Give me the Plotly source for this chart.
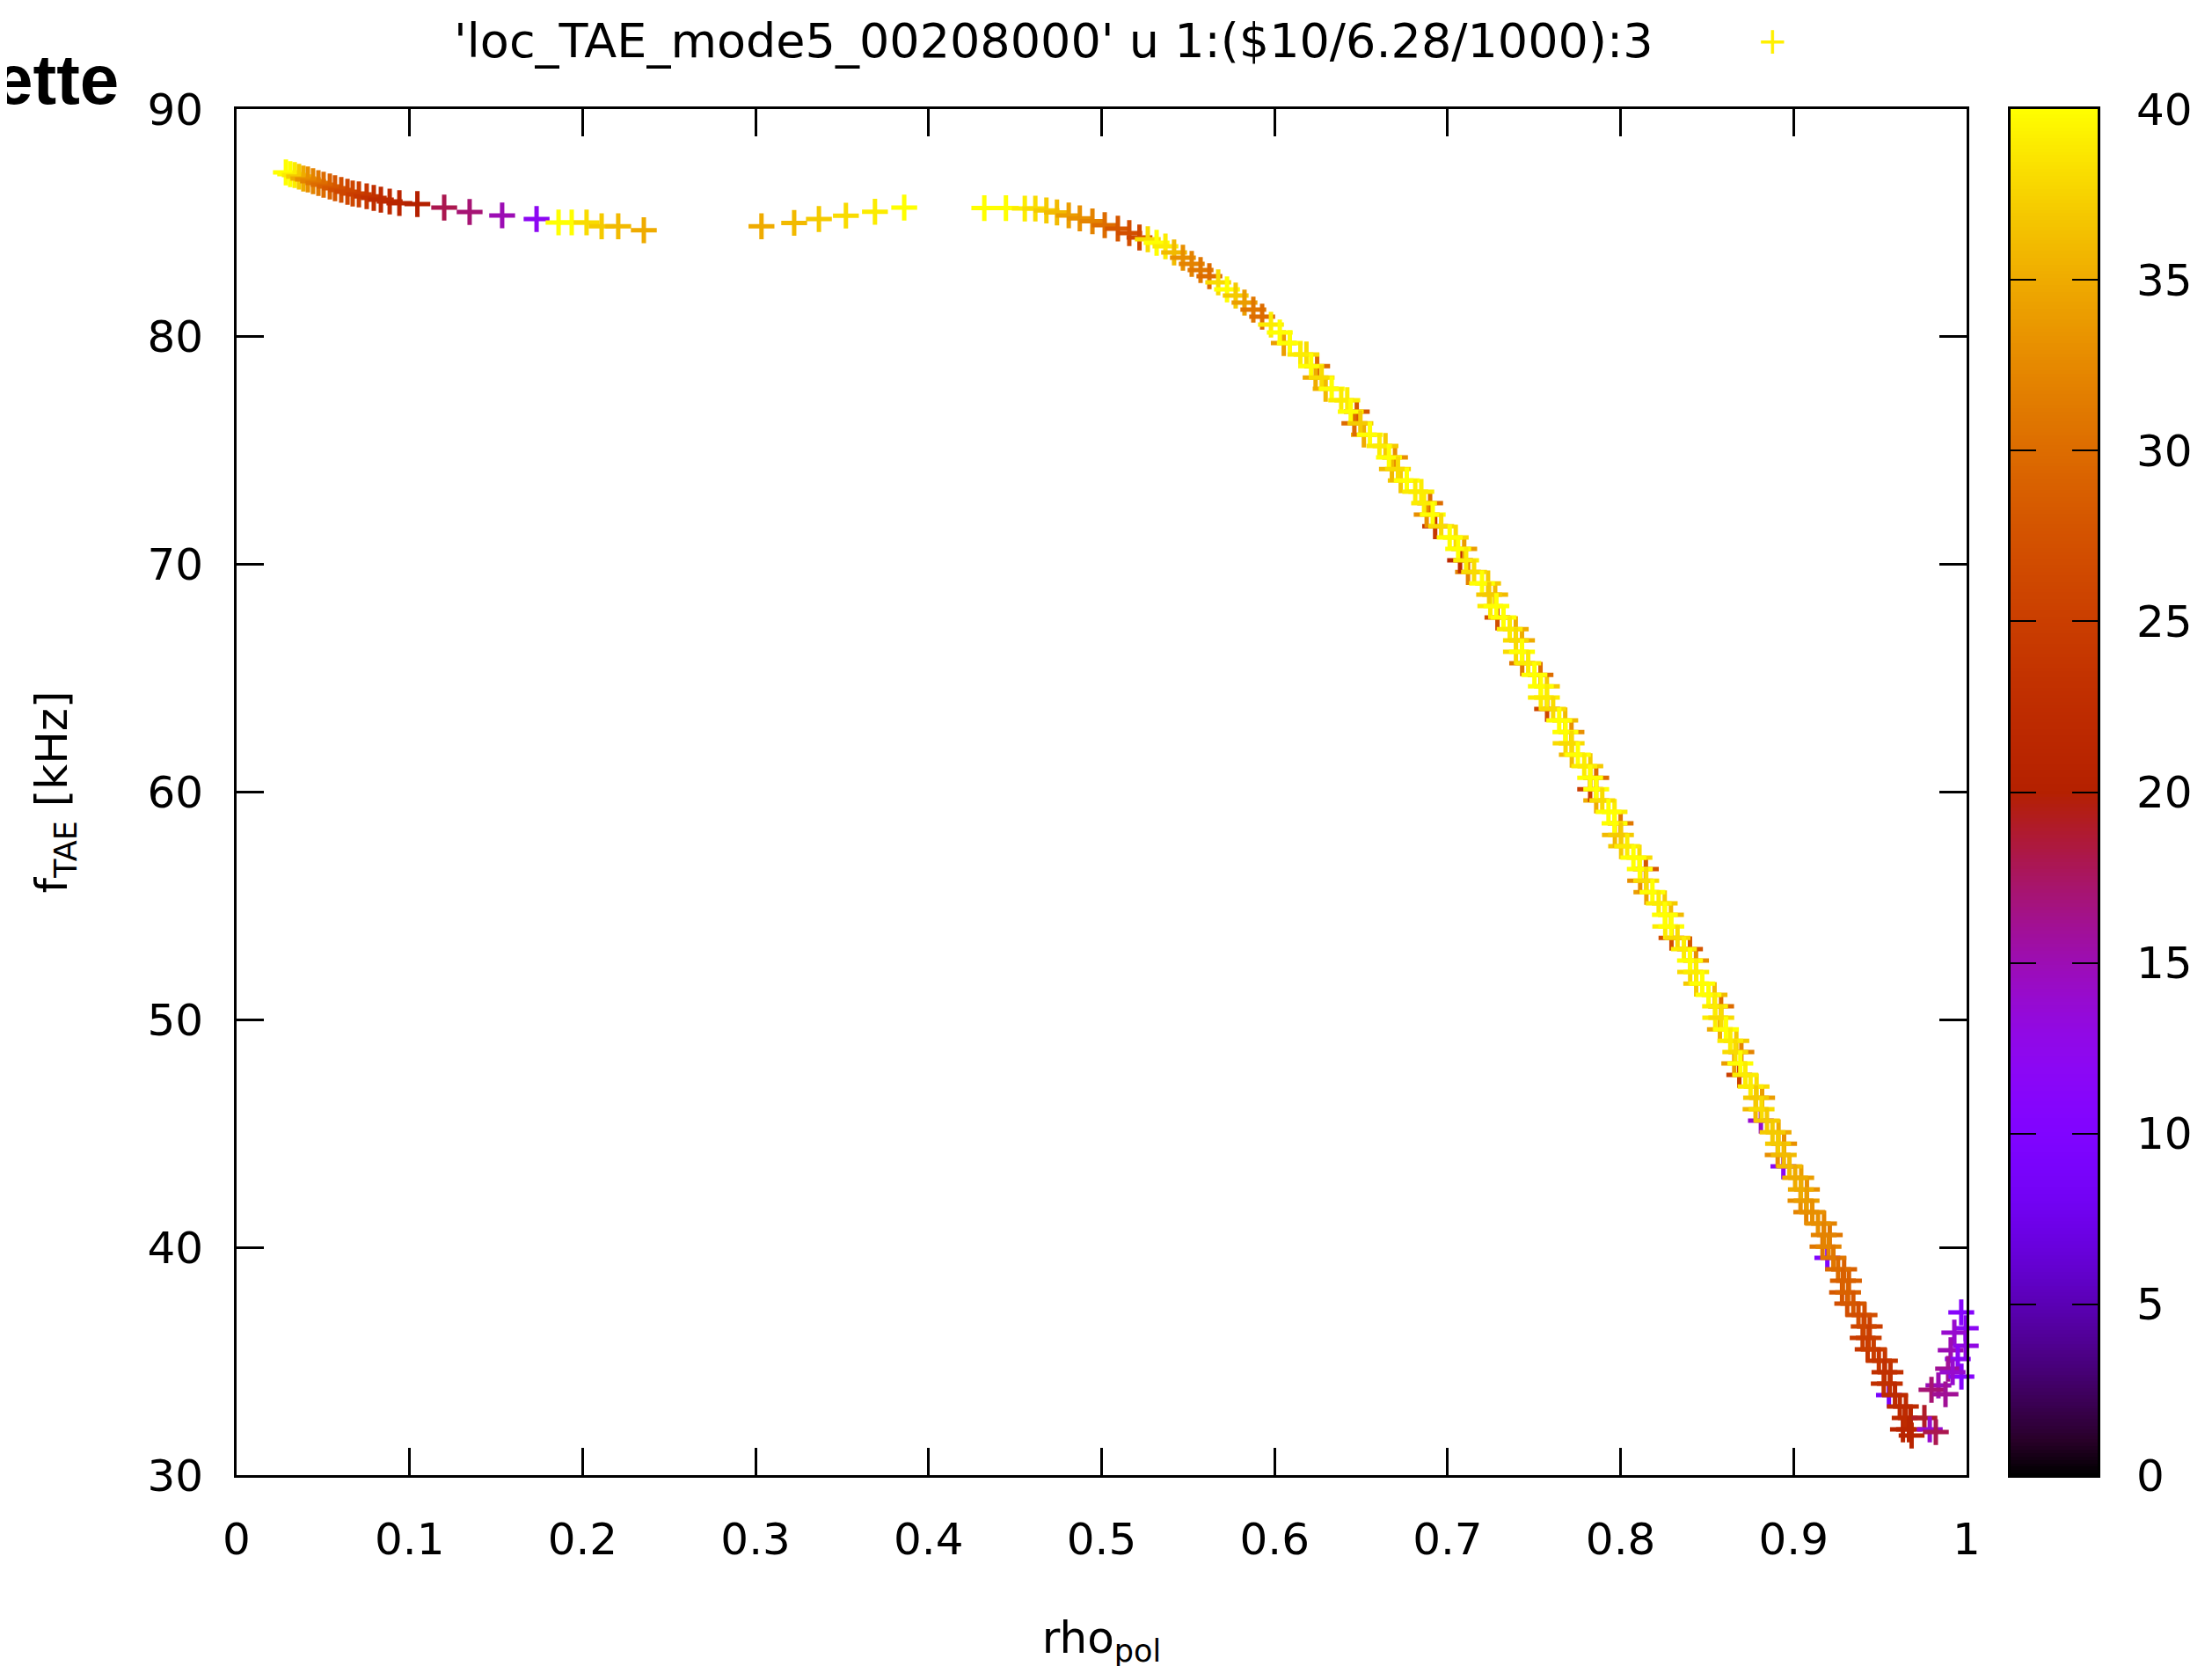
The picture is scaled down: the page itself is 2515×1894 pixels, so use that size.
import numpy as np
import plotly.graph_objects as go

# ---------------- data ----------------
# rho_pol, f_TAE [kHz], colour value (column 3)
head_x = [0.0285, 0.0310, 0.0336, 0.0361, 0.0386, 0.0412, 0.0442, 0.0473, 0.0503, 0.0539,
          0.0569, 0.0605, 0.0641, 0.0671, 0.0707, 0.0752, 0.0793, 0.0834, 0.0885, 0.0941,
          0.1045, 0.1200, 0.1347, 0.1535, 0.1734,
          0.1861, 0.1937, 0.2023, 0.2110, 0.2206, 0.2354,
          0.3034, 0.3223, 0.3366, 0.3522, 0.3690, 0.3859,
          0.4322, 0.4447, 0.4556, 0.4617, 0.4681, 0.4742, 0.4810, 0.4874, 0.4947, 0.5018,
          0.5094, 0.5160, 0.5219]
head_y = [87.22, 87.14, 87.10, 87.03, 86.95, 86.91, 86.83, 86.75, 86.68, 86.60,
          86.52, 86.45, 86.37, 86.29, 86.25, 86.17, 86.10, 86.02, 85.94, 85.87,
          85.83, 85.67, 85.48, 85.33, 85.17,
          85.02, 85.02, 85.02, 84.85, 84.85, 84.68,
          84.85, 85.00, 85.17, 85.32, 85.49, 85.67,
          85.65, 85.65, 85.63, 85.63, 85.55, 85.46, 85.33, 85.20, 85.07, 84.90,
          84.75, 84.55, 84.36]
head_c = [40, 40, 39, 37, 35, 33, 32, 31, 30, 29,
          28, 27, 26, 26, 25, 24, 23, 22, 22, 21,
          20, 18, 17, 15, 12,
          40, 40, 38, 37, 36, 35,
          35, 36, 37, 38, 39, 40,
          40, 40, 39, 38, 37, 36, 34, 33, 32, 30,
          28, 27, 26]

band_x = [0.5267, 0.5318, 0.5369, 0.5419, 0.5470, 0.5521, 0.5572, 0.5623, 0.5674, 0.5725,
          0.5775, 0.5826, 0.5877, 0.5928, 0.5979, 0.6030,
          0.6088, 0.6149, 0.6211, 0.6272, 0.6330, 0.6385, 0.6440, 0.6496, 0.6551, 0.6606,
          0.6661, 0.6713, 0.6764, 0.6813, 0.6864, 0.6914, 0.6963, 0.7012, 0.7061, 0.7107,
          0.7153, 0.7199, 0.7240, 0.7282, 0.7323, 0.7359, 0.7395, 0.7430, 0.7466, 0.7502,
          0.7539, 0.7574, 0.7610, 0.7645, 0.7681, 0.7717, 0.7753, 0.7790, 0.7824, 0.7859,
          0.7894, 0.7930, 0.7965, 0.8002, 0.8038, 0.8074, 0.8111, 0.8148, 0.8184, 0.8220,
          0.8256, 0.8293, 0.8329, 0.8366, 0.8401, 0.8437, 0.8472, 0.8508, 0.8546, 0.8582,
          0.8609, 0.8634, 0.8663, 0.8692, 0.8721, 0.8751, 0.8783, 0.8815, 0.8846, 0.8878,
          0.8910, 0.8943, 0.8976, 0.9009, 0.9042, 0.9075, 0.9108, 0.9141, 0.9174, 0.9202,
          0.9230, 0.9257, 0.9285, 0.9315, 0.9345, 0.9375, 0.9405, 0.9434, 0.9463, 0.9493,
          0.9525, 0.9556, 0.9586, 0.9614, 0.9642, 0.9667, 0.9682]
band_y = [84.28, 84.13, 83.97, 83.70, 83.47, 83.20, 82.93, 82.66, 82.39, 82.08,
          81.81, 81.50, 81.19, 80.88, 80.53, 80.19,
          79.72, 79.22, 78.71, 78.21, 77.71, 77.21, 76.71, 76.20, 75.70, 75.20,
          74.70, 74.19, 73.69, 73.19, 72.69, 72.19, 71.68, 71.18, 70.68, 70.18,
          69.67, 69.17, 68.67, 68.17, 67.67, 67.16, 66.66, 66.16, 65.66, 65.15,
          64.65, 64.15, 63.65, 63.15, 62.64, 62.14, 61.64, 61.14, 60.63, 60.13,
          59.63, 59.13, 58.63, 58.12, 57.62, 57.12, 56.62, 56.11, 55.61, 55.11,
          54.61, 54.10, 53.60, 53.10, 52.60, 52.10, 51.59, 51.09, 50.59, 50.09,
          49.58, 49.08, 48.58, 48.08, 47.58, 47.07, 46.57, 46.07, 45.57, 45.06,
          44.56, 44.06, 43.56, 43.06, 42.55, 42.05, 41.55, 41.05, 40.55, 40.04,
          39.54, 39.04, 38.54, 38.03, 37.53, 37.03, 36.53, 36.03, 35.52, 35.02,
          34.52, 34.02, 33.52, 33.01, 32.51, 32.01, 31.74]
band_c = [38, 40, 39, 36, 33, 32, 31, 30, 38, 40,
          37, 34, 31, 30, 39, 40,
          40, 39, 40, 38, 40, 39, 40, 37, 40, 39,
          40, 38, 40, 39, 39, 40, 38, 40, 40, 39,
          38, 40, 37, 40, 40, 39, 38, 40, 39, 40,
          40, 39, 38, 40, 40, 38, 40, 39, 40, 40,
          38, 40, 40, 37, 39, 40, 40, 38, 40, 39,
          40, 40, 38, 39, 40, 39, 40, 40, 39, 38,
          40, 39, 38, 40, 39, 39, 37, 38, 37, 37,
          37, 36, 36, 35, 35, 34, 33, 33, 32, 32,
          31, 30, 29, 29, 28, 27, 26, 25, 25, 24,
          23, 23, 22, 22, 22, 21, 21]

# points at the edges of the dense band (partly hidden below it)
edge_x = [0.6053, 0.6246, 0.6295, 0.6475, 0.6516, 0.6696, 0.6729, 0.6899, 0.6928, 0.7096,
          0.7118, 0.7275, 0.7288, 0.7430, 0.7431, 0.7574, 0.7575, 0.7716, 0.7718, 0.7859,
          0.7859, 0.8000, 0.8003, 0.8146, 0.8149, 0.8291, 0.8294, 0.8436, 0.8437, 0.8581,
          0.8574, 0.8698, 0.8686, 0.8818, 0.8811, 0.8945, 0.8941, 0.9077, 0.9073, 0.9209,
          0.9195, 0.9320, 0.9310, 0.9440, 0.9428, 0.9560, 0.9551, 0.9677,
          0.6184, 0.6237, 0.6420, 0.6461, 0.6641, 0.6678, 0.6848, 0.6879, 0.7047, 0.7072,
          0.7234, 0.7247, 0.7394, 0.7395, 0.7537, 0.7539, 0.7680, 0.7682, 0.7825, 0.7824,
          0.7965, 0.7967, 0.8109, 0.8113, 0.8255, 0.8258, 0.8401, 0.8402, 0.8543, 0.8547,
          0.8669, 0.8657, 0.8786, 0.8780, 0.8913, 0.8908, 0.9044, 0.9040, 0.9176, 0.9167,
          0.9292, 0.9280, 0.9410, 0.9399, 0.9528, 0.9521, 0.9649, 0.9632]
edge_y = [79.72, 78.71, 77.71, 76.71, 75.70, 74.70, 73.69, 72.69, 71.68, 70.68,
          69.67, 68.67, 67.67, 66.66, 65.66, 64.65, 63.65, 62.64, 61.64, 60.63,
          59.63, 58.63, 57.62, 56.62, 55.61, 54.61, 53.60, 52.60, 51.59, 50.59,
          49.58, 48.58, 47.58, 46.57, 45.57, 44.56, 43.56, 42.55, 41.55, 40.55,
          39.54, 38.54, 37.53, 36.53, 35.52, 34.52, 33.52, 32.51,
          79.22, 78.21, 77.21, 76.20, 75.20, 74.19, 73.19, 72.19, 71.18, 70.18,
          69.17, 68.17, 67.16, 66.16, 65.15, 64.15, 63.15, 62.14, 61.14, 60.13,
          59.13, 58.12, 57.12, 56.11, 55.11, 54.10, 53.10, 52.10, 51.09, 50.09,
          49.08, 48.08, 47.07, 46.07, 45.06, 44.06, 43.06, 42.05, 41.05, 40.04,
          39.04, 38.03, 37.03, 36.03, 35.02, 34.02, 33.01, 32.01]
edge_c = [34, 30, 36, 28, 35, 33, 37, 30, 24, 34,
          32, 36, 27, 35, 31, 37, 26, 33, 36, 30,
          35, 31, 37, 28, 34, 36, 27, 33, 37, 30,
          35, 32, 25, 34, 14, 33, 12, 33, 32, 31,
          10, 29, 27, 25, 24, 23, 9, 21,
          38, 35, 39, 30, 37, 36, 39, 33, 38, 22,
          37, 39, 35, 38, 30, 39, 36, 38, 37, 25,
          39, 36, 38, 33, 37, 39, 28, 38, 36, 39,
          37, 34, 38, 36, 35, 33, 34, 33, 32, 31,
          29, 28, 27, 25, 24, 23, 22, 21]

tail_x = [0.9969, 0.9995, 0.9929, 0.9995, 0.9908, 0.9949, 0.9893, 0.9970, 0.9837, 0.9797,
          0.9878, 0.9919, 0.9756, 0.9787, 0.9822]
tail_y = [37.15, 36.45, 36.26, 35.68, 35.49, 35.10, 34.67, 34.33, 33.94, 33.75,
          33.55, 34.52, 32.51, 32.01, 31.89]
tail_c = [11, 12, 14, 13, 15, 12, 16, 11, 15, 17,
          16, 14, 19, 14, 18]

x_ticks = [0, 0.1, 0.2, 0.3, 0.4, 0.5, 0.6, 0.7, 0.8, 0.9, 1]
x_labels = ["0", "0.1", "0.2", "0.3", "0.4", "0.5", "0.6", "0.7", "0.8", "0.9", "1"]
y_ticks = [30, 40, 50, 60, 70, 80, 90]
cb_ticks = [0, 5, 10, 15, 20, 25, 30, 35, 40]

key_text = "'loc_TAE_mode5_00208000' u 1:($10/6.28/1000):3"

# ---------------- gnuplot default palette (rgbformulae 7,5,15) ----------------
stops = np.linspace(0, 1, 41)
cs = []
for t in stops:
    r = np.sqrt(t)
    g = t ** 3
    b = max(0.0, np.sin(2 * np.pi * t))
    cs.append([float(t), f"rgb({int(round(r*255))},{int(round(g*255))},{int(round(b*255))})"])

FONT = "DejaVu Sans"
W, H = 2515, 1894
ML, MT = 261, 116            # page body margin of 8px is added by the browser
PLOT_R = 2228                # right edge of the main frame (figure px)
CB_L, CB_R = 2278, 2377      # colour bar box (figure px)
PLOT_B = 1669
MR = W - CB_R
MB = H - PLOT_B
PW = CB_R - ML
PH = PLOT_B - MT
main_dom = (PLOT_R - ML) / PW
cb_dom0 = (CB_L - ML) / PW


def px(x):
    return (x - ML) / PW


def py(y):
    return 1 + (MT - y) / PH


mk = dict(symbol="cross-thin-open", size=21, colorscale=cs, cmin=0, cmax=40,
          line=dict(width=5), showscale=False)

fig = go.Figure()
fig.add_trace(go.Scatter(x=edge_x, y=edge_y, mode="markers",
                         marker=dict(mk, color=edge_c), cliponaxis=False,
                         showlegend=False, hoverinfo="skip"))
fig.add_trace(go.Scatter(x=head_x + band_x, y=head_y + band_y, mode="markers",
                         marker=dict(mk, color=head_c + band_c), cliponaxis=False,
                         showlegend=False))
fig.add_trace(go.Scatter(x=tail_x, y=tail_y, mode="markers",
                         marker=dict(mk, color=tail_c), cliponaxis=False,
                         showlegend=False))

cb_levels = np.linspace(0, 40, 401)
fig.add_trace(go.Heatmap(x=[0], y=cb_levels, z=[[v] for v in cb_levels],
                         colorscale=cs, zmin=0, zmax=40, showscale=False,
                         xaxis="x2", yaxis="y2", hoverinfo="skip"))

tf = dict(family=FONT, size=50, color="black")
fig.update_layout(
    width=W, height=H,
    margin=dict(l=ML, r=MR, t=MT, b=MB),
    paper_bgcolor="white", plot_bgcolor="white",
    showlegend=False,
    xaxis=dict(domain=[0, main_dom], range=[0, 1], tickvals=x_ticks, ticktext=x_labels,
               ticks="inside", ticklen=31, tickwidth=3, tickcolor="black",
               showline=True, linewidth=3, linecolor="black", mirror="ticks",
               showgrid=False, zeroline=False, tickfont=tf, ticklabelstandoff=27,
               title=dict(text="rho<sub>pol</sub>", font=tf, standoff=66)),
    yaxis=dict(domain=[0, 1], range=[30, 90], tickvals=y_ticks,
               ticks="inside", ticklen=31, tickwidth=3, tickcolor="black",
               showline=True, linewidth=3, linecolor="black", mirror="ticks",
               showgrid=False, zeroline=False, tickfont=tf, ticklabelstandoff=25,
               title=dict(text="f<sub>TAE</sub> [kHz]", font=tf, standoff=75)),
    xaxis2=dict(domain=[cb_dom0, 1], anchor="y2", range=[-0.5, 0.5],
                showticklabels=False, ticks="", showline=True, mirror=True,
                linewidth=3, linecolor="black", showgrid=False, zeroline=False),
    yaxis2=dict(domain=[0, 1], anchor="x2", side="right", range=[0, 40],
                tickvals=cb_ticks, ticks="inside", ticklen=29, tickwidth=2,
                tickcolor="black", mirror="ticks", showline=True, linewidth=3,
                linecolor="black", showgrid=False, zeroline=False, tickfont=tf,
                ticklabelstandoff=31),
    annotations=[
        dict(text=key_text, xref="paper", yref="paper",
             x=px(1874), y=py(38),
             xanchor="right", yanchor="middle", showarrow=False,
             font=dict(family=FONT, size=54, color="black")),
        dict(text="+", xref="paper", yref="paper",
             x=px(2008), y=py(38),
             xanchor="center", yanchor="middle", showarrow=False,
             font=dict(family=FONT, size=42, color="rgb(255,240,0)")),
        dict(text="<b>ette</b>", xref="paper", yref="paper",
             x=px(129), y=py(82),
             xanchor="right", yanchor="middle", showarrow=False,
             font=dict(family="Liberation Sans", size=80, color="black")),
    ],
)

fig.write_html("out.html")
